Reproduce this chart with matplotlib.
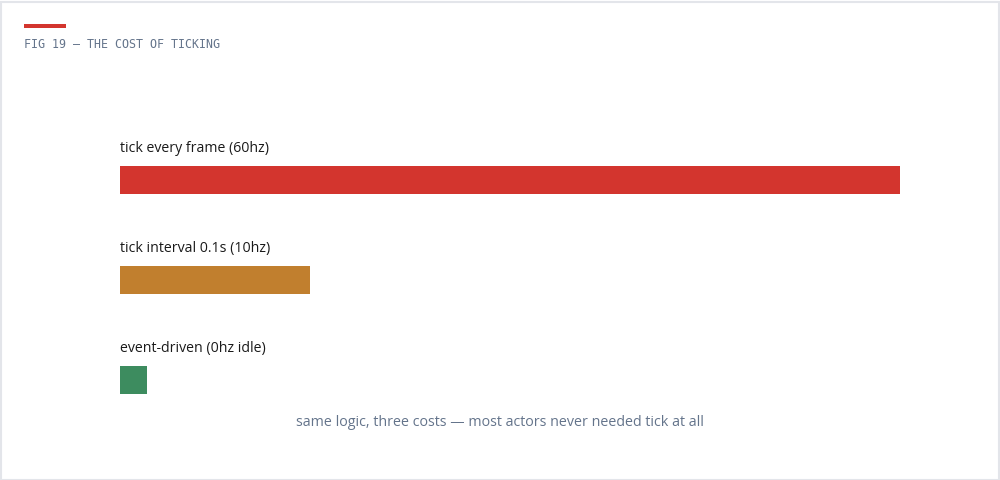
import matplotlib
matplotlib.use("Agg")
import matplotlib.pyplot as plt
from matplotlib.patches import Rectangle

categories = ["tick every frame (60hz)", "tick interval 0.1s (10hz)", "event-driven (0hz idle)"]
values = [100, 24.4, 3.4]
colors = ["#d3352e", "#c17f2e", "#3d8c5f"]
title = "FIG 19 — THE COST OF TICKING"
caption = "same logic, three costs — most actors never needed tick at all"

W, H = 1000, 480
fig = plt.figure(figsize=(W / 100, H / 100), dpi=100)
fig.patch.set_facecolor("white")

# border
fig.add_artist(Rectangle((0.5 / W, 0.5 / H), 1 - 2 / W, 1 - 2 / H, transform=fig.transFigure,
                         fill=False, edgecolor="#e3e5ea", linewidth=1.5))

# accent bar
fig.add_artist(Rectangle((24 / W, 1 - 28 / H), 42 / W, 4 / H, transform=fig.transFigure,
                         facecolor="#d3352e", edgecolor="none"))
fig.text(24 / W, 1 - 44 / H, title, family="DejaVu Sans Mono", fontsize=8.4,
         color="#64748b", va="center", ha="left")

# axes: x 120..900 px, y 100..400 px
ax = fig.add_axes([120 / W, (H - 400) / H, 780 / W, 300 / H])
ax.set_xlim(0, max(values))
ax.set_ylim(2.2, -0.8)
ax.axis("off")
ypos = list(range(len(categories)))
ax.barh(ypos, values, height=0.28, color=colors, align="center")
for y, lab in zip(ypos, categories):
    ax.text(0, y - 0.315, lab, family="Open Sans", fontsize=10.2, color="#1a1a1a",
            va="center", ha="left")

fig.text(0.5, 1 - 422 / H, caption, family="Open Sans", fontsize=10.3, color="#64748b",
         ha="center", va="center")

fig.savefig("out.png", dpi=100)
